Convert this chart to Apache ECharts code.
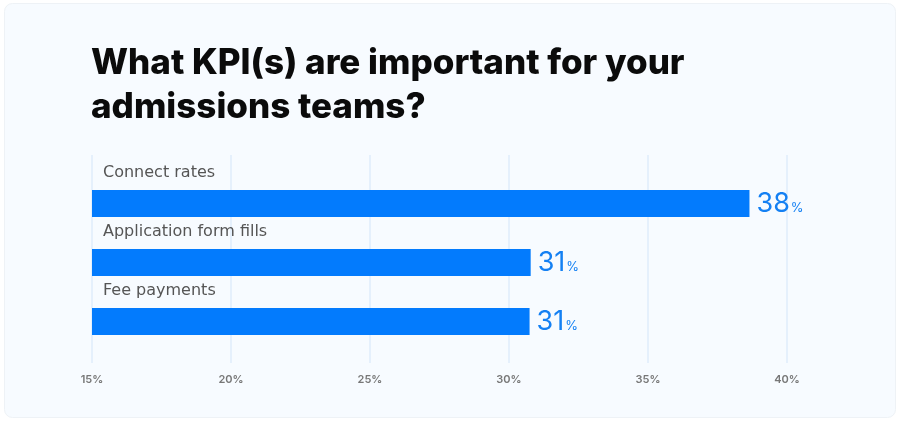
<!DOCTYPE html>
<html>
<head>
<meta charset="utf-8">
<script src="https://cdn.jsdelivr.net/npm/echarts@6/dist/echarts.min.js"></script>
<style>
  html, body { margin: 0; padding: 0; background: #ffffff; }
  #chart { width: 900px; height: 422px; }
</style>
</head>
<body>
<div id="chart"></div>
<script>
const categories = ['Connect rates', 'Application form fills', 'Fee payments'];
const values = [38.65, 30.78, 30.74];
const valueLabels = ['38', '31', '31'];
const tickValues = [15, 20, 25, 30, 35, 40];
const titleText = 'What KPI(s) are important for your\nadmissions teams?';

const chart = echarts.init(document.getElementById('chart'), null, { renderer: 'canvas' });

const option = {
  animation: false,
  backgroundColor: '#ffffff',
  graphic: [{
    type: 'rect',
    z: -10,
    shape: { x: 4.5, y: 3.5, width: 891, height: 414, r: 8 },
    style: { fill: '#f7fbff', stroke: '#eef2f6', lineWidth: 1 }
  }],
  title: {
    text: titleText,
    left: 86,
    top: 36,
    textStyle: {
      fontFamily: 'Inter',
      fontWeight: 800,
      fontSize: 35,
      lineHeight: 44,
      color: '#0b0b0b'
    }
  },
  grid: [
    { left: 92, right: 113, top: 155, height: 208 },
    { left: 92, right: 113, top: 174, height: 177 }
  ],
  xAxis: [
    {
      gridIndex: 0,
      type: 'value',
      min: tickValues[0],
      max: tickValues[tickValues.length - 1],
      interval: 5,
      axisLine: { show: false },
      axisTick: { show: false },
      splitLine: { show: true, lineStyle: { color: '#dfedfb', width: 1.5 } },
      axisLabel: {
        formatter: '{value}%',
        color: '#777777',
        fontFamily: 'Inter',
        fontWeight: 600,
        fontSize: 11,
        margin: 11
      }
    },
    {
      gridIndex: 1,
      type: 'value',
      min: tickValues[0],
      max: tickValues[tickValues.length - 1],
      interval: 5,
      show: false,
      splitLine: { show: false }
    }
  ],
  yAxis: [
    { gridIndex: 0, type: 'value', show: false, splitLine: { show: false } },
    {
      gridIndex: 1,
      type: 'category',
      data: categories,
      inverse: true,
      show: false
    }
  ],
  series: [
    {
      type: 'bar',
      xAxisIndex: 1,
      yAxisIndex: 1,
      data: values,
      barWidth: 27,
      itemStyle: { color: '#037bfd' },
      label: {
        show: true,
        position: 'right',
        distance: 7,
        formatter: function (p) { return '{a|' + valueLabels[p.dataIndex] + '}{b|%}'; },
        rich: {
          a: { fontFamily: 'Inter', fontSize: 27, fontWeight: 400, color: '#1480f3', verticalAlign: 'bottom' },
          b: { fontFamily: 'Inter', fontSize: 13, fontWeight: 400, color: '#1480f3', verticalAlign: 'bottom', padding: [0, 0, 2, 1] }
        }
      }
    },
    {
      type: 'bar',
      xAxisIndex: 1,
      yAxisIndex: 1,
      data: values,
      barWidth: 27,
      barGap: '-100%',
      itemStyle: { color: 'rgba(0,0,0,0)' },
      silent: true,
      label: {
        show: true,
        position: [11, -17],
        align: 'left',
        verticalAlign: 'middle',
        formatter: function (p) { return categories[p.dataIndex]; },
        fontFamily: 'DejaVu Sans',
        fontSize: 16,
        color: '#555555'
      }
    }
  ]
};
chart.setOption(option);
</script>
</body>
</html>
